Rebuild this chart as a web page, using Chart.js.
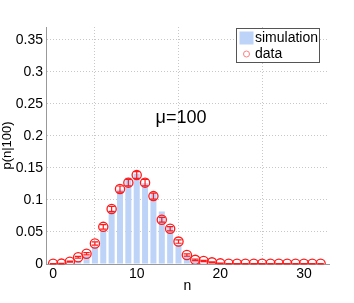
<!DOCTYPE html>
<html>
<head>
<meta charset="utf-8">
<script src="https://cdn.jsdelivr.net/npm/chart.js@4.4.1/dist/chart.umd.min.js"></script>
<style>
html,body{margin:0;padding:0;background:#fff;}
#wrap{width:354px;height:303px;}
</style>
</head>
<body>
<div id="wrap"><canvas id="c" width="354" height="303"></canvas></div>
<script>
const nValues = [0,1,2,3,4,5,6,7,8,9,10,11,12,13,14,15,16,17,18,19,20,21,22,23,24,25,26,27,28,29,30,31,32];
const simulation = [0.0002,0.0005,0.0012,0.005,0.0125,0.027,0.052,0.084,0.116,0.135,0.141,0.126,0.11,0.082,0.058,0.030,0.0125,0.005,0.002,0.0008,0.0003,0,0,0,0,0,0,0,0,0,0,0,0];
const dataValues = [0.0005,0.0006,0.0036,0.0105,0.016,0.032,0.058,0.086,0.117,0.127,0.139,0.127,0.106,0.069,0.055,0.035,0.014,0.0065,0.0047,0.0026,0.001,0.0005,0.0005,0.0005,0.0005,0.0005,0.0005,0.0005,0.0005,0.0005,0.0005,0.0005,0.0005];
const dataErrors = [0.0003,0.0003,0.0008,0.0014,0.0018,0.0026,0.0034,0.0041,0.0048,0.005,0.0052,0.005,0.0046,0.0037,0.0033,0.0026,0.0017,0.0011,0.0009,0.0007,0.0004,0.0003,0.0003,0.0003,0.0003,0.0003,0.0003,0.0003,0.0003,0.0003,0.0003,0.0003,0.0003];
const yTicks = [0,0.05,0.1,0.15,0.2,0.25,0.3,0.35];
const yTickLabels = ['0','0.05','0.1','0.15','0.2','0.25','0.3','0.35'];
const xTicks = [0,10,20,30];
const legendLabels = ['simulation','data'];
const annotationText = 'μ=100';

const FONT = "'Liberation Sans', Arial, sans-serif";
const BAR_COLOR = '#bdd3f7';
const RED = '#ff1a1a';

const errorPlugin = {
  id: 'errbars',
  afterDatasetsDraw(chart) {
    const ctx = chart.ctx;
    const xs = chart.scales.x, ys = chart.scales.y;
    ctx.save();
    ctx.strokeStyle = RED;
    ctx.lineWidth = 1.2;
    for (let i = 0; i < nValues.length; i++) {
      const px = xs.getPixelForValue(nValues[i]);
      const pt = ys.getPixelForValue(dataValues[i] + dataErrors[i]);
      const pb = ys.getPixelForValue(dataValues[i] - dataErrors[i]);
      const cw = 3.2;
      ctx.beginPath();
      ctx.moveTo(px, pt); ctx.lineTo(px, pb);
      ctx.moveTo(px - cw, pt); ctx.lineTo(px + cw, pt);
      ctx.moveTo(px - cw, pb); ctx.lineTo(px + cw, pb);
      ctx.stroke();
    }
    ctx.restore();
  }
};

const extrasPlugin = {
  id: 'extras',
  afterDraw(chart) {
    const ctx = chart.ctx;
    const xs = chart.scales.x, ys = chart.scales.y;
    ctx.save();
    ctx.fillStyle = '#000';
    ctx.font = '18px ' + FONT;
    ctx.textAlign = 'center';
    ctx.textBaseline = 'middle';
    ctx.fillText(annotationText, xs.getPixelForValue(15.3), ys.getPixelForValue(0.228));
    const bx = 236.5, by = 28.5, bw = 83, bh = 34;
    ctx.fillStyle = '#fff';
    ctx.fillRect(bx, by, bw, bh);
    ctx.strokeStyle = '#555';
    ctx.lineWidth = 1;
    ctx.strokeRect(bx, by, bw, bh);
    ctx.fillStyle = BAR_COLOR;
    ctx.fillRect(239.5, 31.5, 14, 13);
    ctx.beginPath();
    ctx.arc(246.5, 54, 3, 0, Math.PI * 2);
    ctx.strokeStyle = '#ff8080';
    ctx.lineWidth = 1;
    ctx.stroke();
    ctx.fillStyle = '#000';
    ctx.font = '14px ' + FONT;
    ctx.textAlign = 'left';
    ctx.textBaseline = 'middle';
    ctx.fillText(legendLabels[0], 255, 38.5);
    ctx.fillText(legendLabels[1], 255, 54);
    ctx.restore();
  }
};

new Chart(document.getElementById('c'), {
  type: 'bar',
  data: {
    datasets: [
      {
        type: 'bar',
        label: legendLabels[0],
        data: nValues.map((n, i) => ({x: n, y: simulation[i]})),
        backgroundColor: BAR_COLOR,
        borderWidth: 0,
        barPercentage: 0.72,
        categoryPercentage: 1.0,
        order: 2
      },
      {
        type: 'scatter',
        label: legendLabels[1],
        data: nValues.map((n, i) => ({x: n, y: dataValues[i]})),
        showLine: false,
        pointStyle: 'circle',
        pointRadius: 4.6,
        pointBorderWidth: 1.3,
        pointBorderColor: RED,
        pointBackgroundColor: 'rgba(0,0,0,0)',
        order: 1
      }
    ]
  },
  options: {
    responsive: false,
    animation: false,
    devicePixelRatio: 1,
    layout: {padding: {top: 27, right: 25, left: 0, bottom: 0}},
    plugins: {legend: {display: false}, tooltip: {enabled: false}},
    scales: {
      x: {
        type: 'linear',
        min: -0.85,
        max: 33,
        offset: false,
        afterBuildTicks(s) { s.ticks = xTicks.map(v => ({value: v})); },
        afterFit(s) { s.height = 39; },
        ticks: {font: {family: FONT, size: 14}, color: '#000', padding: 2, maxRotation: 0},
        grid: {color: '#c8c8c8', lineWidth: 1, drawTicks: false, tickLength: 0},
        border: {display: true, color: '#999', width: 1, dash: [1, 2]},
        title: {display: true, text: 'n', font: {family: FONT, size: 14}, color: '#000', padding: {top: 0, bottom: 8}}
      },
      y: {
        min: 0,
        max: 0.37,
        afterBuildTicks(s) { s.ticks = yTicks.map(v => ({value: v})); },
        afterFit(s) { s.width = 46; },
        ticks: {
          font: {family: FONT, size: 14}, color: '#000', padding: 3,
          callback: (v, i) => yTickLabels[i]
        },
        grid: {color: '#c8c8c8', lineWidth: 1, drawTicks: false, tickLength: 0},
        border: {display: true, color: '#999', width: 1, dash: [1, 2]},
        title: {display: true, text: 'p(n|100)', font: {family: FONT, size: 13}, color: '#000', padding: {top: 0, bottom: 0}}
      }
    }
  },
  plugins: [errorPlugin, extrasPlugin]
});
</script>
</body>
</html>
